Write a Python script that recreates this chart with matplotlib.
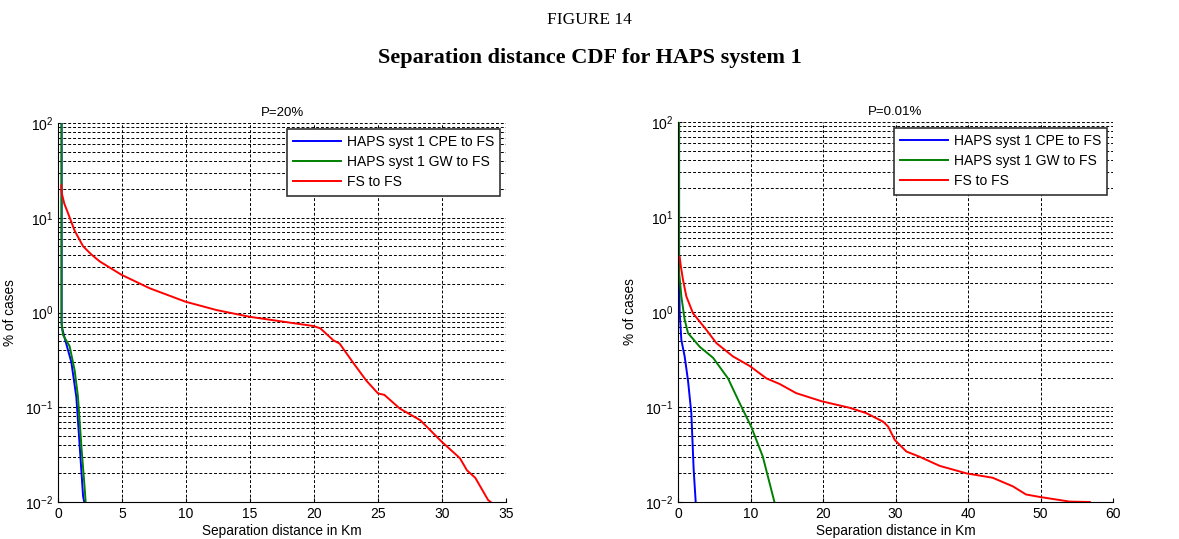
import matplotlib
matplotlib.use("Agg")
import matplotlib.pyplot as plt

plt.rcParams['font.family'] = ['Liberation Sans', 'DejaVu Sans']

labels = ["HAPS syst 1 CPE to FS", "HAPS syst 1 GW to FS", "FS to FS"]
colors = ["#0000ff", "#008000", "#ff0000"]

# P=20%  (distance km, % of cases)
p20_cpe_x = [0.28, 0.28, 0.3, 0.5, 1.04, 1.43, 1.70, 1.96, 2.05]
p20_cpe_y = [100, 0.8, 0.7, 0.55, 0.30, 0.129, 0.038, 0.0115, 0.01]
p20_gw_x = [0.28, 0.28, 0.39, 0.91, 1.30, 1.56, 1.83, 2.05, 2.16]
p20_gw_y = [100, 0.77, 0.58, 0.44, 0.245, 0.129, 0.038, 0.016, 0.01]
p20_fs_x = [0.26, 0.3, 0.5, 0.78, 1.3, 1.96, 2.6, 3.26, 4.96, 7.17, 9.96, 12.4, 15.0, 17.6,
            19.95, 20.5, 21.5, 22.0, 23.1, 24.1, 25.0, 25.5, 26.7, 28.3, 30.0, 31.4,
            31.95, 32.6, 33.6, 33.8]
p20_fs_y = [22, 18, 14, 11.2, 7.3, 5.0, 4.1, 3.46, 2.5, 1.8, 1.30, 1.06, 0.90, 0.80,
            0.72, 0.68, 0.51, 0.47, 0.29, 0.19, 0.14, 0.135, 0.097, 0.073, 0.043, 0.029,
            0.0216, 0.018, 0.0105, 0.01]

# P=0.01%
p001_cpe_x = [0.15, 0.15, 0.16, 0.23, 0.46, 0.92, 1.38, 1.84, 2.16, 2.44]
p001_cpe_y = [100, 3.0, 2.4, 0.98, 0.51, 0.34, 0.19, 0.086, 0.022, 0.01]
p001_gw_x = [0.15, 0.15, 0.3, 0.46, 0.92, 1.38, 3.0, 4.83, 6.9, 8.5, 10.1, 11.7, 13.3]
p001_gw_y = [100, 2.5, 2.0, 1.46, 0.83, 0.60, 0.43, 0.33, 0.20, 0.11, 0.062, 0.030, 0.01]
p001_fs_x = [0.23, 0.4, 0.69, 1.15, 2.07, 3.9, 5.3, 7.6, 9.9, 12.2, 14.0, 16.3, 19.8,
             23.7, 26.0, 28.3, 29.0, 29.9, 31.5, 33.3, 36.1, 39.8, 43.4, 46.2, 48.0,
             49.9, 52.6, 54.0, 56.8]
p001_fs_y = [3.8, 3.0, 2.18, 1.46, 0.97, 0.65, 0.47, 0.34, 0.27, 0.20, 0.175, 0.14, 0.115,
             0.098, 0.086, 0.070, 0.062, 0.045, 0.034, 0.030, 0.024, 0.020, 0.018, 0.0146, 0.012,
             0.0113, 0.0105, 0.0101, 0.01]

fig = plt.figure(figsize=(11.79, 5.39), dpi=100)

fig.text(0.5, 1 - 20 / 539, "FIGURE 14", ha="center", va="center",
         family="Liberation Serif", fontsize=12.5)
fig.text(0.5, 1 - 58 / 539, "Separation distance CDF for HAPS system 1", ha="center",
         va="center", family="Liberation Serif", fontsize=16, fontweight="bold")


def draw(ax, series, title, xmax, xstep):
    for (x, y), c, lab in zip(series, colors, labels):
        ax.plot(x, y, color=c, lw=1.4, label=lab)
    ax.set_yscale("log")
    ax.set_ylim(0.01, 100)
    ax.set_xlim(0, xmax)
    ax.set_xticks(range(0, xmax + 1, xstep))
    ax.grid(True, which="major", axis="x", color="k", ls=(0, (3, 2)), lw=0.7)
    ax.grid(True, which="both", axis="y", color="k", ls=(0, (3, 2)), lw=0.7)
    ax.spines["top"].set_visible(False)
    ax.spines["right"].set_visible(False)
    ax.tick_params(direction="in", labelsize=10, length=3)
    ax.tick_params(which="minor", direction="in", length=2)
    ax.set_title(title, fontsize=9.5, pad=5)
    ax.set_xlabel("Separation distance in Km", fontsize=9.8, labelpad=2)
    ax.set_ylabel("% of cases", fontsize=9.8, labelpad=6)
    leg = ax.legend(loc="upper right", fontsize=10, fancybox=False, framealpha=1,
                    edgecolor="#333333", borderaxespad=0.4, handlelength=3.5,
                    handletextpad=0.4, borderpad=0.45, labelspacing=0.45)
    leg.get_frame().set_linewidth(1.2)


ax1 = fig.add_axes([58 / 1179, 1 - 502 / 539, 448 / 1179, 379 / 539])
draw(ax1, [(p20_cpe_x, p20_cpe_y), (p20_gw_x, p20_gw_y), (p20_fs_x, p20_fs_y)],
     "P=20%", 35, 5)

ax2 = fig.add_axes([678 / 1179, 1 - 502 / 539, 435 / 1179, 380 / 539])
draw(ax2, [(p001_cpe_x, p001_cpe_y), (p001_gw_x, p001_gw_y), (p001_fs_x, p001_fs_y)],
     "P=0.01%", 60, 10)

fig.savefig("out.png", dpi=100)
